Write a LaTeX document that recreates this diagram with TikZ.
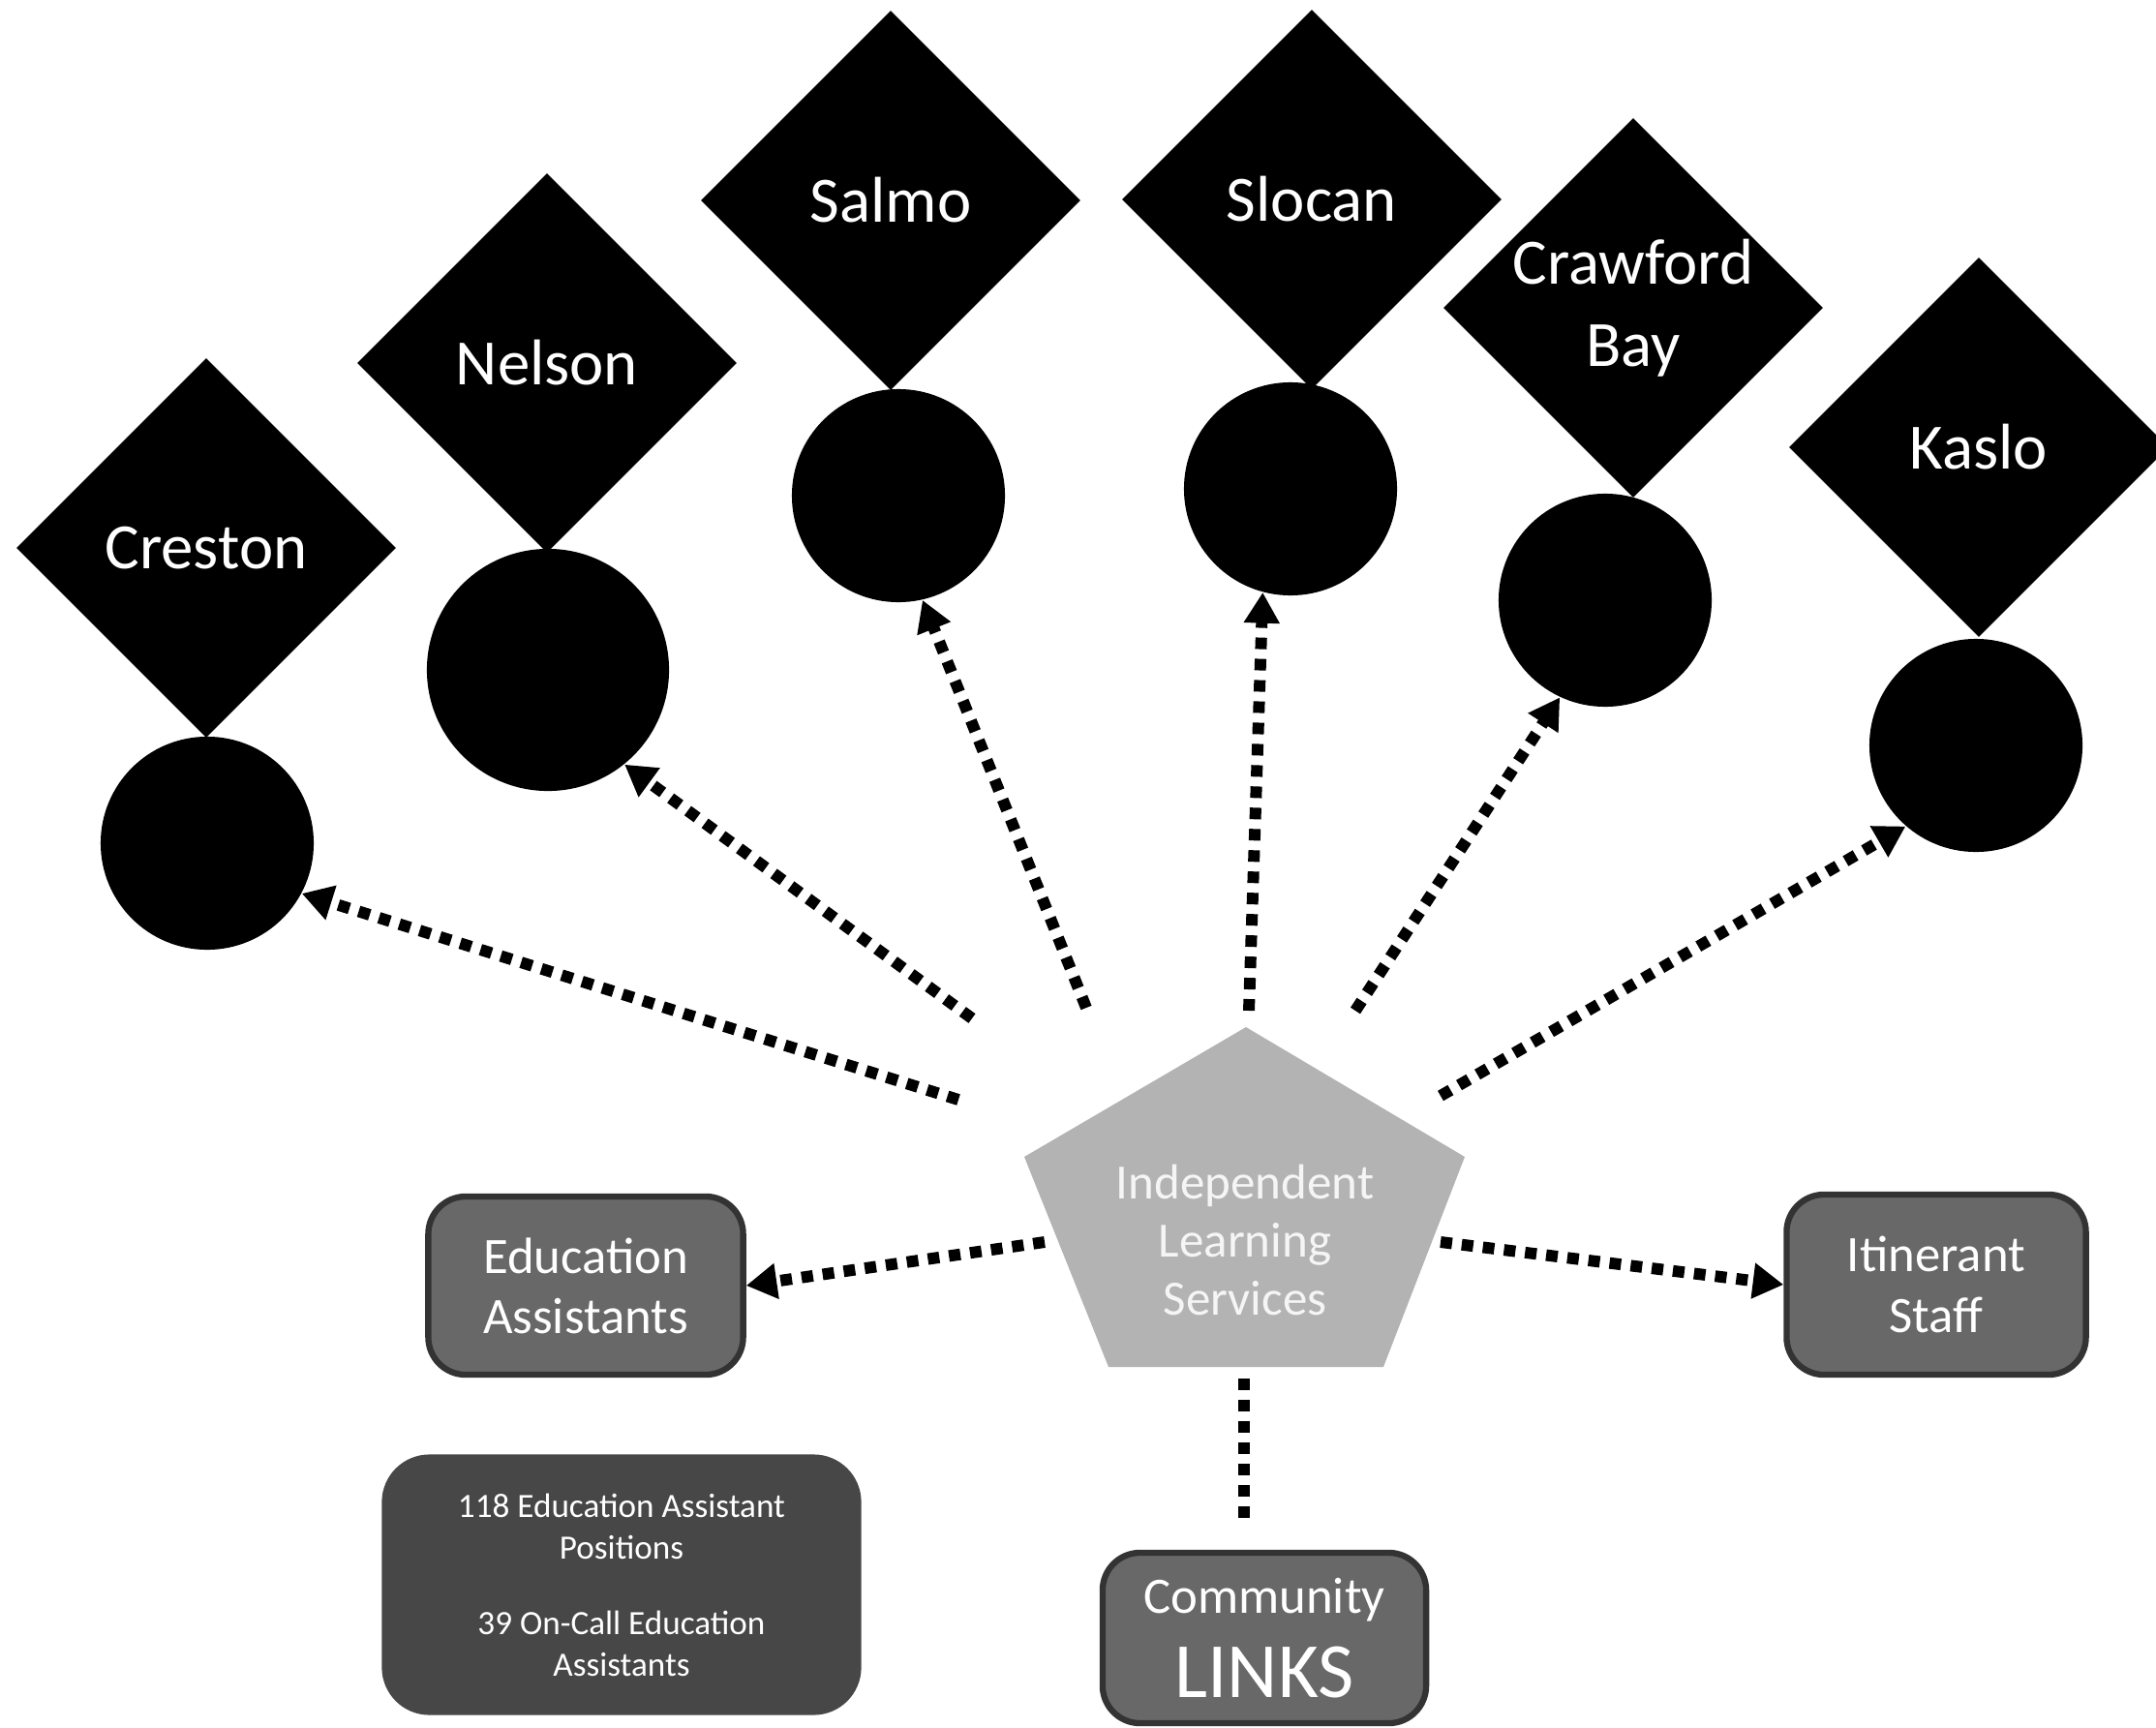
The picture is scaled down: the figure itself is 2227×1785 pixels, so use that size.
\documentclass[tikz,border=0pt]{standalone}
\usepackage{fontspec}
\setmainfont{Carlito}
\usetikzlibrary{shapes.geometric,arrows.meta}
\definecolor{boxgray}{HTML}{686868}
\definecolor{boxline}{HTML}{333333}
\definecolor{pentgray}{HTML}{B3B3B3}
\definecolor{infogray}{HTML}{474747}

\begin{document}
\begin{tikzpicture}[x=0.01cm,y=-0.01cm]
    \tikzset{town/.style={diamond,fill=black,text=white,minimum width=3.92cm,minimum height=3.92cm,
        inner sep=0pt,align=center,font=\fontsize{19}{24}\selectfont},
      ball/.style={circle,fill=black,inner sep=0pt,minimum size=2.2cm},
      rounded/.style={draw=boxline,line width=1.8pt,fill=boxgray,rounded corners=11pt,text=white,
        align=center,font=\fontsize{15}{17.7}\selectfont},
      dotline/.style={line width=3.4pt,dash pattern=on 3.4pt off 2.85pt},
      dotarrow/.style={dotline,-{Triangle[length=9pt,width=10pt]}}}
    \useasboundingbox (0,0) rectangle (2227,1785);
    % schools
    \node[town] (creston) at (213,566) {Creston};
    \node[town] (nelson) at (565,375) {Nelson};
    \node[town] (salmo) at (920,207) {Salmo};
    \node[town] (slocan) at (1355,206) {Slocan};
    \node[town] (crawford) at (1687,318) {Crawford\\Bay};
    \node[town] (kaslo) at (2044,462) {Kaslo};
    \node[ball] (creston-c) at (214,871) {};
    \node[ball,minimum size=2.5cm] (nelson-c) at (566,692) {};
    \node[ball] (salmo-c) at (928,512) {};
    \node[ball] (slocan-c) at (1333,505) {};
    \node[ball] (crawford-c) at (1658,620) {};
    \node[ball] (kaslo-c) at (2041,770) {};
    % centre
    \fill[pentgray] (1287,1061) -- (1513,1195) -- (1429,1412) -- (1145,1412) -- (1058,1195) -- cycle;
    \node[text=white!96!black,align=center,font=\fontsize{14.5}{17}\selectfont] (ils) at (1286,1281)
      {Independent\\Learning\\Services};
    % staff
    \node[rounded,minimum width=3.25cm,minimum height=1.84cm] (ea) at (605,1328) {Education\\Assistants};
    \node[rounded,minimum width=3.09cm,minimum height=1.86cm] (its) at (2000,1327) {Itinerant\\Staff};
    \node[rounded,minimum width=3.34cm,minimum height=1.76cm] (links) at (1306,1692)
      {Community\\[7pt]\fontsize{23}{23}\selectfont LINKS};
    \node[fill=infogray,rounded corners=14pt,minimum width=4.95cm,minimum height=2.69cm,text=white,
      align=center,font=\fontsize{10}{12.2}\selectfont] (info) at (642,1637)
      {118 Education Assistant\\Positions\\[10pt]39 On-Call Education\\Assistants};
    % links
    \coordinate (s1) at (990,1136);
    \coordinate (s2) at (1004,1052);
    \coordinate (s3) at (1122,1041);
    \coordinate (s4) at (1290,1044);
    \coordinate (s5) at (1400,1044);
    \coordinate (s6) at (1488,1132);
    \coordinate (s7) at (1079,1283);
    \coordinate (s8) at (1488,1283);
    \coordinate (s9) at (1285,1424);
    \draw[dotarrow] (s1) -- (creston-c.-28);
    \draw[dotarrow] (s2) -- (nelson-c.-51);
    \draw[dotarrow] (s3) -- (salmo-c.-77);
    \draw[dotarrow] (s4) -- (slocan-c.-105);
    \draw[dotarrow] (s5) -- (crawford-c.-115);
    \draw[dotarrow] (s6) -- (kaslo-c.-131);
    \draw[dotarrow] (s7) -- (ea.east);
    \draw[dotarrow] (s8) -- (its.west);
    \draw[dotline,shorten >=8pt] (s9) -- (links.north -| s9);
\end{tikzpicture}
\end{document}
